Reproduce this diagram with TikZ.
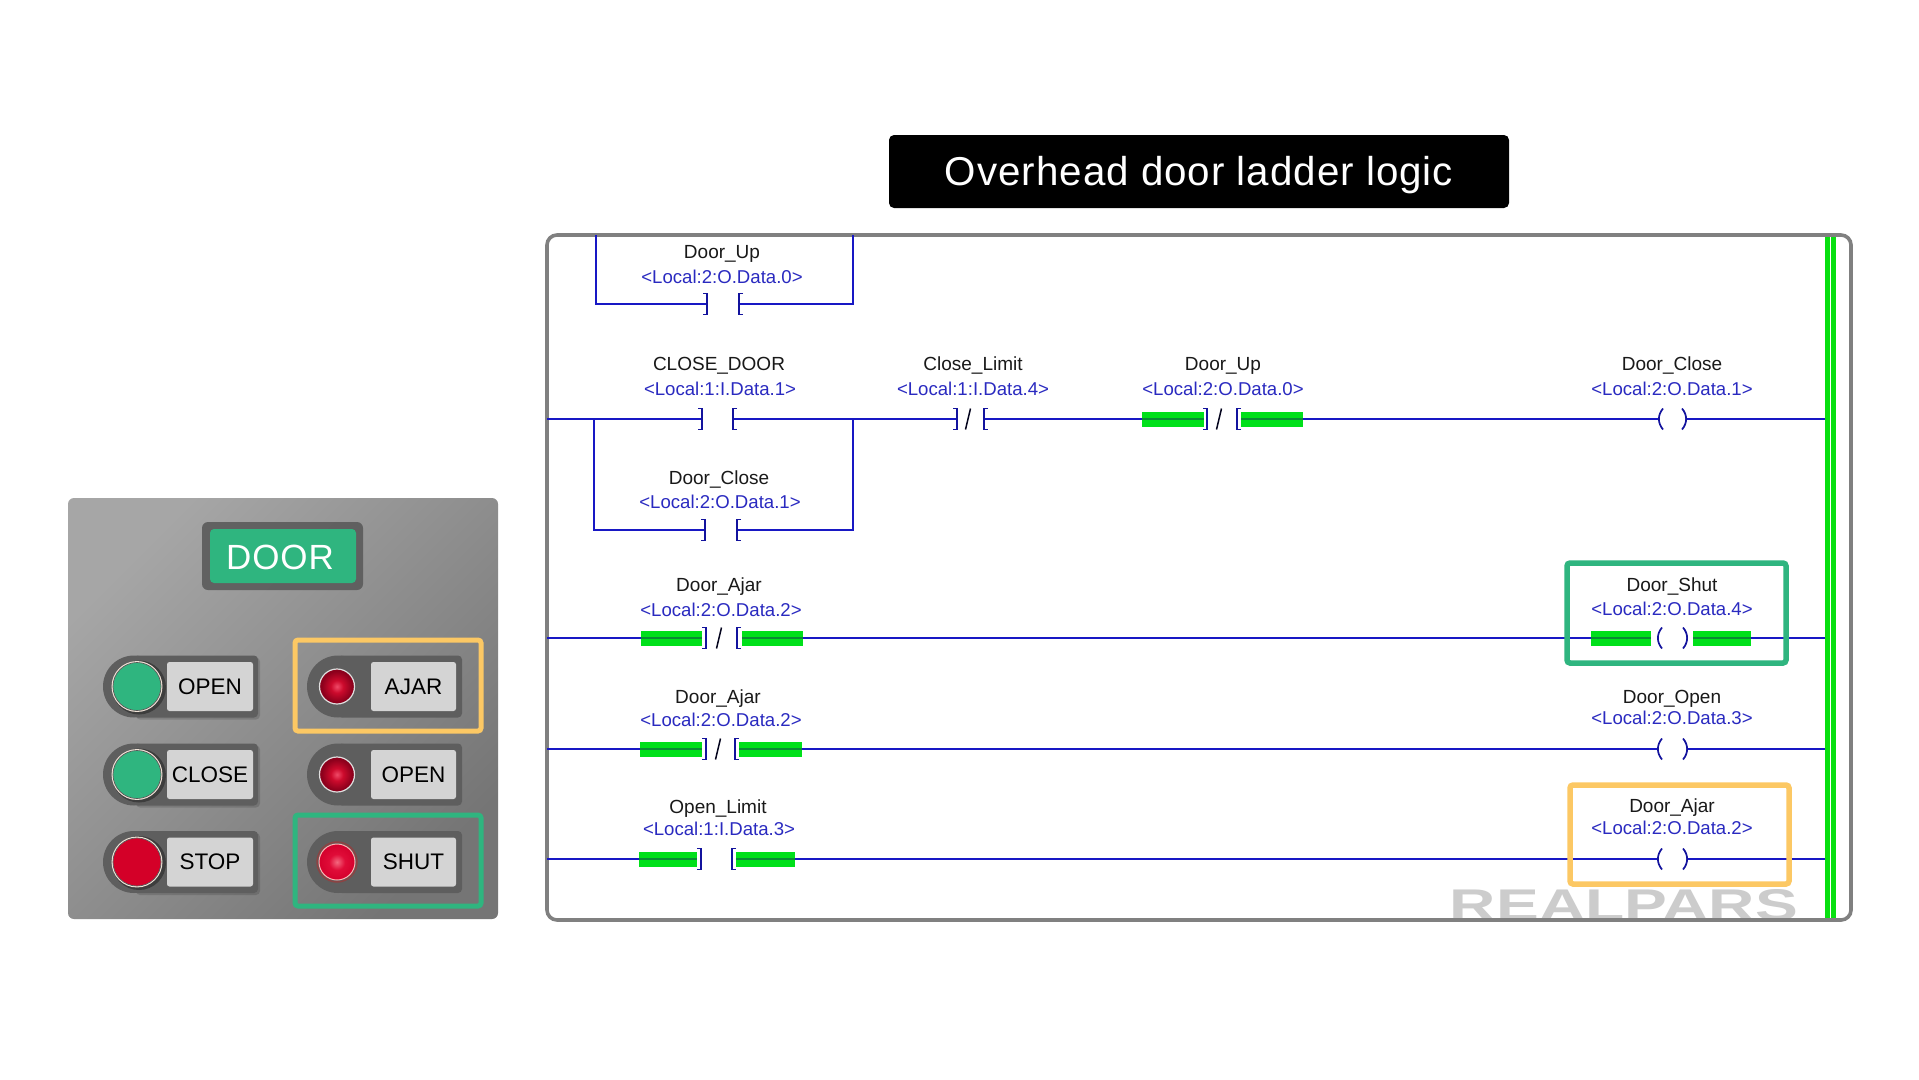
\documentclass[tikz,border=0pt]{standalone}
\usepackage{fontspec}
\setmainfont{Liberation Sans}
\newfontfamily\uifont[LetterSpace=2.5]{Liberation Sans}
\newfontfamily\keyfont{Liberation Sans}
\usetikzlibrary{calc}
\definecolor{wireblue}{HTML}{1818C4}
\definecolor{textblue}{HTML}{2A2AC0}
\definecolor{hlgreen}{HTML}{00E01A}
\definecolor{hldark}{HTML}{0A8A34}
\definecolor{railgreen}{HTML}{08E010}
\definecolor{framegray}{HTML}{808080}
\definecolor{brandgreen}{HTML}{2FB57F}
\definecolor{brandorange}{HTML}{FCC864}
\definecolor{pillgray}{HTML}{5E5E5E}
\definecolor{labelgray}{HTML}{D4D4D4}
\definecolor{stopred}{HTML}{D40028}
\definecolor{ledcore}{HTML}{F04A68}
\definecolor{ledmid}{HTML}{CC0A2C}
\definecolor{ledrim}{HTML}{8C001C}
\definecolor{litcore}{HTML}{F4687F}
\definecolor{litmid}{HTML}{E00C38}
\definecolor{litrim}{HTML}{D4002C}
\pgfdeclareradialshading{ledoffshade}{\pgfpoint{0bp}{0bp}}{color(0bp)=(ledcore);color(9bp)=(ledmid);color(22bp)=(ledrim);color(50bp)=(ledrim)}
\pgfdeclareradialshading{ledonshade}{\pgfpoint{0bp}{0bp}}{color(0bp)=(litcore);color(11bp)=(litmid);color(25bp)=(litrim);color(50bp)=(litrim)}
\tikzset{
  wire/.style={draw=wireblue,line width=2.1pt},
  brk/.style={draw=wireblue!80!black,line width=1.7pt},
  slashmark/.style={draw=black!85!wireblue,line width=1.5pt},
  tagname/.style={inner sep=0pt,anchor=base,yshift=-7pt,font=\fontsize{19}{19}\selectfont,text=black!90},
  tagaddr/.style={inner sep=0pt,font=\fontsize{18.6}{19}\selectfont,text=textblue},
  pill/.style={fill=pillgray},
  keycap/.style={fill=labelgray,rounded corners=2.5pt,minimum height=49pt,inner sep=0pt,
    font=\keyfont\fontsize{22.5}{24}\selectfont,text=black},
  bigbtn/.style={circle,minimum size=49.5pt,inner sep=0pt,draw=white!80!brown,line width=1.4pt},
  ledoff/.style={circle,minimum size=35pt,inner sep=0pt,draw=white!75!gray,line width=1.2pt,shading=ledoffshade},
  ledon/.style={circle,minimum size=36pt,inner sep=0pt,draw=red!30!white,line width=1pt,shading=ledonshade},
  markbox/.style={line width=5pt,rounded corners=3pt},
}
\newcommand{\closebrk}[1]{\draw[brk] ([shift={(-4,-10.5)}]#1) -- ++(4,0) -- ++(0,21) -- ++(-4,0);}
\newcommand{\openbrk}[1]{\draw[brk] ([shift={(4,-10.5)}]#1) -- ++(-4,0) -- ++(0,21) -- ++(4,0);}
\newcommand{\coilL}[1]{\draw[brk] ([shift={(4,-10.5)}]#1) .. controls ([shift={(-1.5,-4)}]#1) and ([shift={(-1.5,4)}]#1) .. ([shift={(4,10.5)}]#1);}
\newcommand{\coilR}[1]{\draw[brk] ([shift={(-4,-10.5)}]#1) .. controls ([shift={(1.5,-4)}]#1) and ([shift={(1.5,4)}]#1) .. ([shift={(-4,10.5)}]#1);}
\newcommand{\slashat}[1]{\draw[slashmark] ([shift={(-2.5,10.5)}]#1) -- ([shift={(2.5,-10.5)}]#1);}
\newcommand{\hilite}[3]{\fill[hlgreen] (#1,#3-7.5) rectangle (#2,#3+7.5); \draw[hldark,line width=1.5pt] (#1,#3) -- (#2,#3);}
\begin{document}
\begin{tikzpicture}[x=1pt,y=-1pt]
\useasboundingbox (0,0) rectangle (1919,1079);
\fill[white] (0,0) rectangle (1919,1079);

% ---------- panel ----------
\shade[rounded corners=6pt,shading=axis,left color=black!35,right color=black!54,shading angle=45]
  (68,498) rectangle (498,919);
\fill[pillgray,rounded corners=6pt,fill opacity=.95] (202,522) rectangle (363,590);
\node[fill=brandgreen,rounded corners=4pt,minimum width=146pt,minimum height=54pt,inner sep=0pt] (doorlabel) at (283,556) {};
\node[inner sep=0pt,font=\uifont\fontsize{35}{37}\selectfont,text=white] (doortext) at (280,557) {DOOR};

\foreach \yc/\nm/\txt/\col in {686.5/open/OPEN/brandgreen,774.5/close/CLOSE/brandgreen,862/stop/STOP/stopred}{
  \fill[black,opacity=.14,rounded corners=4pt] (136,\yc-29) rectangle (260,\yc+33);
  \fill[pill,rounded corners=4pt] (134,\yc-31) rectangle (258,\yc+31);
  \fill[pill] (134,\yc) circle[radius=31pt];
  \node[keycap,minimum width=86pt] (lbl\nm) at (210,\yc) {\txt};
  \fill[black,opacity=.35] (139,\yc+1) circle[radius=27pt];
  \node[bigbtn,fill=\col] (btn\nm) at (137,\yc) {};
  \draw[black!65,line width=.7pt] (btn\nm.center) circle[radius=24pt];
}
\foreach \yc/\nm/\txt/\sty in {686.5/ajar/AJAR/ledoff,774.5/opened/OPEN/ledoff,862/shut/SHUT/ledon}{
  \fill[pill,rounded corners=4pt] (338,\yc-31) rectangle (462,\yc+31);
  \fill[pill] (338,\yc) circle[radius=31pt];
  \node[keycap,minimum width=85pt] (lbl\nm) at (413.5,\yc) {\txt};
  \node[\sty] (led\nm) at (337,\yc) {};
}
\draw[red!70!pillgray,line width=1.5pt,opacity=.4] (ledshut.center) circle[radius=20pt];
\draw[brandorange,markbox] (295,640) rectangle (481,731);
\draw[brandgreen,markbox] (295,815) rectangle (481,906);

% ---------- title ----------
\node[fill=black,rounded corners=5pt,minimum width=620pt,minimum height=73pt,inner sep=0pt] (title) at (1199,171.5) {};
\node[inner sep=0pt,anchor=base,font=\uifont\fontsize{40.3}{40}\selectfont,text=white] (titletext) at (1199,185) {Overhead door ladder logic};

% ---------- watermark and frame ----------
\node[inner sep=0pt,text=black!20] (brand) at (1624,905.5) {\resizebox{348pt}{31pt}{\bfseries REALPARS}};
\draw[framegray,line width=3.6pt,rounded corners=10pt] (547,235) rectangle (1851,920);

% ---------- tags ----------
\node[tagname] (n1) at (722,251) {Door\_Up};
\node[tagaddr] (a1) at (722,277) {<Local:2:O.Data.0>};
\node[tagname] (n2) at (719,363) {CLOSE\_DOOR};
\node[tagaddr] (a2) at (720,389) {<Local:1:I.Data.1>};
\node[tagname] (n3) at (973,363) {Close\_Limit};
\node[tagaddr] (a3) at (973,389) {<Local:1:I.Data.4>};
\node[tagname] (n4) at (1223,363) {Door\_Up};
\node[tagaddr] (a4) at (1223,389) {<Local:2:O.Data.0>};
\node[tagname] (n5) at (1672,363) {Door\_Close};
\node[tagaddr] (a5) at (1672,389) {<Local:2:O.Data.1>};
\node[tagname] (n6) at (719,477) {Door\_Close};
\node[tagaddr] (a6) at (720,502) {<Local:2:O.Data.1>};
\node[tagname] (n7) at (719,584) {Door\_Ajar};
\node[tagaddr] (a7) at (721,610) {<Local:2:O.Data.2>};
\node[tagname] (n8) at (1672,584) {Door\_Shut};
\node[tagaddr] (a8) at (1672,609) {<Local:2:O.Data.4>};
\node[tagname] (n9) at (718,696) {Door\_Ajar};
\node[tagaddr] (a9) at (721,720) {<Local:2:O.Data.2>};
\node[tagname] (n10) at (1672,696) {Door\_Open};
\node[tagaddr] (a10) at (1672,718) {<Local:2:O.Data.3>};
\node[tagname] (n11) at (718,806) {Open\_Limit};
\node[tagaddr] (a11) at (719,829) {<Local:1:I.Data.3>};
\node[tagname] (n12) at (1672,805) {Door\_Ajar};
\node[tagaddr] (a12) at (1672,828) {<Local:2:O.Data.2>};

% ---------- green highlights (beneath the contacts) ----------
\hilite{1142}{1204}{419}
\hilite{1241}{1303}{419}
\hilite{641}{702}{638}
\hilite{742}{803}{638}
\hilite{1591}{1651}{638}
\hilite{1693}{1751}{638}
\hilite{640}{702}{749}
\hilite{739}{802}{749}
\hilite{639}{697}{859}
\hilite{736}{795}{859}

% ---------- named points ----------
\coordinate (brTopL) at (596,235);
\coordinate (brTopR) at (853,235);
\coordinate (k0a) at (707,304); \coordinate (k0b) at (739,304);
\coordinate (s1) at (547,419);
\coordinate (j1) at (594,419); \coordinate (j2) at (853,419);
\coordinate (k1a) at (702,419); \coordinate (k1b) at (733,419);
\coordinate (k2a) at (957,419); \coordinate (k2b) at (984,419); \coordinate (k2s) at (968,419);
\coordinate (k3a) at (1207,419); \coordinate (k3b) at (1237,419); \coordinate (k3s) at (1219,419);
\coordinate (c1a) at (1659,419); \coordinate (c1b) at (1686,419);
\coordinate (e1) at (1828,419);
\coordinate (k4a) at (705,530); \coordinate (k4b) at (737,530);
\coordinate (s2) at (547,638);
\coordinate (k5a) at (706,638); \coordinate (k5b) at (737,638); \coordinate (k5s) at (719,638);
\coordinate (c2a) at (1658,638); \coordinate (c2b) at (1687,638);
\coordinate (e2) at (1828,638);
\coordinate (s3) at (547,749);
\coordinate (k6a) at (706,749); \coordinate (k6b) at (735,749); \coordinate (k6s) at (718,749);
\coordinate (c3a) at (1658,749); \coordinate (c3b) at (1687,749);
\coordinate (e3) at (1828,749);
\coordinate (s4) at (547,859);
\coordinate (k7a) at (701,859); \coordinate (k7b) at (732,859);
\coordinate (c4a) at (1658,859); \coordinate (c4b) at (1687,859);
\coordinate (e4) at (1828,859);

% ---------- wires ----------
\draw[wire] (brTopL) |- (k0a);
\draw[wire] (brTopR) |- (k0b);
\draw[wire] (s1) -- (k1a);
\draw[wire] (k1b) -- (k2a);
\draw[wire] (k2b) -- (1142,419);
\draw[wire] (1303,419) -- (c1a);
\draw[wire] (c1b) -- (e1);
\draw[wire] (j1) |- (k4a);
\draw[wire] (j2) |- (k4b);
\draw[wire] (s2) -- (641,638);
\draw[wire] (803,638) -- (1591,638);
\draw[wire] (1751,638) -- (e2);
\draw[wire] (s3) -- (640,749);
\draw[wire] (802,749) -- (c3a);
\draw[wire] (c3b) -- (e3);
\draw[wire] (s4) -- (639,859);
\draw[wire] (795,859) -- (c4a);
\draw[wire] (c4b) -- (e4);

% ---------- contacts ----------
\foreach \p in {k0,k1,k2,k3,k4,k5,k6,k7}{\closebrk{\p a}\openbrk{\p b}}
\foreach \p in {k2s,k3s,k5s,k6s}{\slashat{\p}}
\foreach \p in {c1,c2,c3,c4}{\coilL{\p a}\coilR{\p b}}

% ---------- marker boxes ----------
\draw[brandgreen,line width=5.5pt,rounded corners=3pt] (1567,563) rectangle (1786,663);
\draw[brandorange,line width=5.5pt,rounded corners=3pt] (1570,785) rectangle (1789,884);

% ---------- right rail ----------
\coordinate (railTopA) at (1827,237);
\coordinate (railBotA) at (1827,918);
\coordinate (railTopB) at (1833.5,237);
\coordinate (railBotB) at (1833.5,918);
\draw[railgreen,line width=5pt] (railTopA) -- (railBotA);
\draw[railgreen,line width=5pt] (railTopB) -- (railBotB);
\end{tikzpicture}
\end{document}
